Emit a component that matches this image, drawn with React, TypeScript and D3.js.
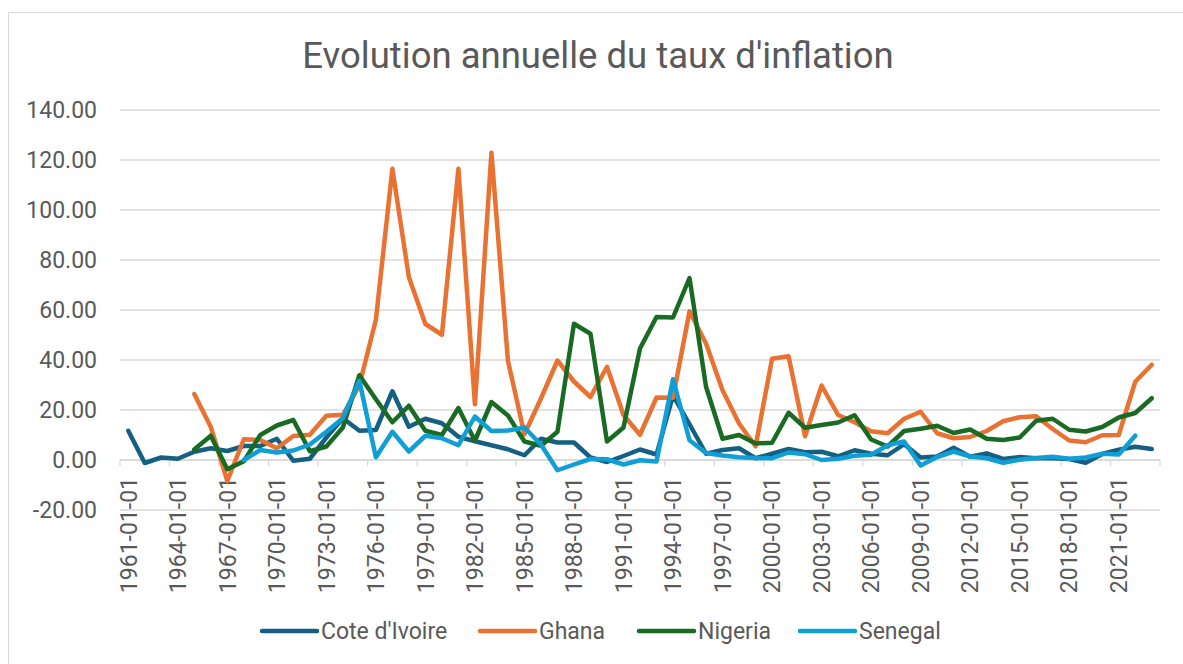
import React, { useEffect, useRef } from 'react';
import * as d3 from 'd3';

const years: number[] = d3.range(1961, 2024);

const coteIvoire: (number | null)[] = [
  11.7, -1.2, 1.0, 0.5, 3.3, 4.7, 3.6, 5.6, 5.6, 8.5,
  -0.3, 0.5, 9.0, 16.7, 11.7, 12.0, 27.5, 13.3, 16.5, 14.7,
  9.3, 7.5, 5.9, 4.3, 1.9, 8.5, 7.0, 7.0, 1.0, -0.8,
  1.6, 4.2, 2.2, 25.8, 14.3, 2.5, 4.0, 4.7, 0.7, 2.5,
  4.4, 3.1, 3.3, 1.5, 3.9, 2.5, 1.9, 6.3, 1.0, 1.4,
  4.9, 1.3, 2.6, 0.4, 1.2, 0.7, 0.7, 0.4, -1.1, 2.4,
  4.1, 5.3, 4.4,
];

const ghana: (number | null)[] = [
  null, null, null, null, 26.4, 13.2, -8.4, 8.3, 8.0, 4.7,
  9.6, 10.1, 17.7, 18.1, 29.8, 56.1, 116.5, 73.1, 54.4, 50.1,
  116.5, 22.3, 122.9, 39.7, 10.3, 24.6, 39.8, 31.4, 25.2, 37.3,
  18.0, 10.1, 25.0, 24.9, 59.5, 46.6, 27.9, 14.6, 5.5, 40.5,
  41.5, 9.5, 29.8, 18.0, 15.1, 11.5, 10.7, 16.5, 19.3, 10.7,
  8.7, 9.2, 11.6, 15.5, 17.1, 17.5, 12.4, 7.8, 7.1, 9.9,
  10.0, 31.3, 38.1,
];

const nigeria: (number | null)[] = [
  null, null, null, null, 4.2, 9.7, -3.7, -0.5, 10.0, 13.8,
  16.0, 3.5, 5.4, 13.0, 33.9, 24.3, 15.1, 21.7, 11.7, 10.0,
  20.8, 7.7, 23.2, 17.8, 7.4, 5.7, 11.3, 54.5, 50.5, 7.4,
  13.0, 44.6, 57.2, 57.0, 72.8, 29.3, 8.5, 10.0, 6.6, 6.9,
  18.9, 12.9, 14.0, 15.0, 17.9, 8.2, 5.4, 11.6, 12.5, 13.7,
  10.8, 12.2, 8.5, 8.0, 9.0, 15.7, 16.5, 12.1, 11.4, 13.2,
  17.0, 18.8, 24.7,
];

const senegal: (number | null)[] = [
  null, null, null, null, null, null, null, 0.0, 4.0, 3.0,
  3.8, 6.2, 11.3, 16.7, 31.7, 1.1, 11.3, 3.4, 9.7, 8.7,
  5.9, 17.4, 11.6, 11.8, 13.0, 6.2, -4.1, -1.8, 0.4, 0.3,
  -1.8, -0.1, -0.6, 32.3, 7.9, 2.8, 1.8, 1.1, 0.8, 0.7,
  3.0, 2.3, 0.0, 0.5, 1.7, 2.1, 5.9, 7.4, -2.2, 1.2,
  3.4, 1.4, 0.7, -1.1, 0.1, 0.8, 1.3, 0.5, 1.0, 2.5,
  2.2, 9.7, null,
];

const seriesNames = ["Cote d'Ivoire", 'Ghana', 'Nigeria', 'Senegal'];
const seriesColors = ['#156082', '#E97132', '#196B24', '#0F9ED5'];
const yTicks = [-20, 0, 20, 40, 60, 80, 100, 120, 140];

const W = 1183;
const H = 664;
const FONT = 'Roboto, "Open Sans", sans-serif';
const TEXT = '#595959';
const GRID = '#D9D9D9';
const LABEL_SIZE = 23;

const App: React.FC = () => {
  const svgRef = useRef<SVGSVGElement>(null);

  useEffect(() => {
    const svg = d3.select(svgRef.current)
      .attr('width', W)
      .attr('height', H)
      .style('font-family', FONT);

    svg.selectAll('*').remove();

    // chart border (runs off the right/bottom edges like the screenshot)
    svg.append('rect')
      .attr('x', 8.5).attr('y', 12.5)
      .attr('width', 1300).attr('height', 800)
      .attr('fill', 'white')
      .attr('stroke', GRID);

    const x = d3.scaleBand<number>().domain(years).range([120, 1160]).paddingInner(0).paddingOuter(0);
    const y = d3.scaleLinear().domain([-20, 140]).range([510, 110]);

    // gridlines
    svg.append('g')
      .selectAll('line')
      .data(yTicks)
      .join('line')
      .attr('x1', 120).attr('x2', 1160)
      .attr('y1', (d) => y(d)).attr('y2', (d) => y(d))
      .attr('stroke', GRID)
      .attr('stroke-width', 1.3);

    // y labels (plain hyphen for negatives, like Excel)
    svg.append('g')
      .selectAll('text')
      .data(yTicks)
      .join('text')
      .attr('x', 97)
      .attr('y', (d) => y(d))
      .attr('dy', '0.36em')
      .attr('text-anchor', 'end')
      .attr('fill', TEXT)
      .attr('font-size', LABEL_SIZE)
      .text((d) => d.toFixed(2));

    // category axis sits on zero
    const y0 = y(0);
    svg.append('line')
      .attr('x1', 120).attr('x2', 1160)
      .attr('y1', y0).attr('y2', y0)
      .attr('stroke', GRID).attr('stroke-width', 1.3);

    const tickPos = years.filter((_, i) => i % 3 === 0).map((yr) => x(yr) as number).concat([1160]);
    svg.append('g')
      .selectAll('line')
      .data(tickPos)
      .join('line')
      .attr('x1', (d) => d).attr('x2', (d) => d)
      .attr('y1', y0).attr('y2', y0 + 6)
      .attr('stroke', GRID).attr('stroke-width', 1.3);

    svg.append('g')
      .selectAll('text')
      .data(years.filter((_, i) => i % 3 === 0))
      .join('text')
      .attr('transform', (d) => `translate(${(x(d) as number) + x.bandwidth() / 2},477) rotate(-90)`)
      .attr('dy', '0.36em')
      .attr('text-anchor', 'end')
      .attr('fill', TEXT)
      .attr('font-size', LABEL_SIZE)
      .text((d) => `${d}-01-01`);

    // lines
    const allSeries = [coteIvoire, ghana, nigeria, senegal];
    const line = d3.line<number | null>()
      .defined((d) => d !== null)
      .x((_, i) => (x(years[i]) as number) + x.bandwidth() / 2)
      .y((d) => y(d as number));

    svg.append('g')
      .selectAll('path')
      .data(allSeries)
      .join('path')
      .attr('d', (d) => line(d))
      .attr('fill', 'none')
      .attr('stroke', (_, i) => seriesColors[i])
      .attr('stroke-width', 4.5)
      .attr('stroke-linejoin', 'round')
      .attr('stroke-linecap', 'round');

    // title
    svg.append('text')
      .attr('x', 598)
      .attr('y', 55)
      .attr('dy', '0.36em')
      .attr('text-anchor', 'middle')
      .attr('fill', TEXT)
      .attr('font-size', 36.5)
      .text("Evolution annuelle du taux d'inflation");

    // legend
    const legendX = [262, 480, 639, 800];
    const legend = svg.append('g')
      .selectAll('g')
      .data(seriesNames)
      .join('g')
      .attr('transform', (_, i) => `translate(${legendX[i]},631)`);
    legend.append('line')
      .attr('x1', 0).attr('x2', 55)
      .attr('stroke', (_, i) => seriesColors[i])
      .attr('stroke-width', 4.5)
      .attr('stroke-linecap', 'round');
    legend.append('text')
      .attr('x', 59)
      .attr('dy', '0.36em')
      .attr('fill', TEXT)
      .attr('font-size', LABEL_SIZE)
      .text((d) => d);

    return () => {
      svg.selectAll('*').remove();
    };
  }, []);

  return <svg ref={svgRef} style={{ position: 'absolute', left: 0, top: 0 }}></svg>;
};

export default App;
